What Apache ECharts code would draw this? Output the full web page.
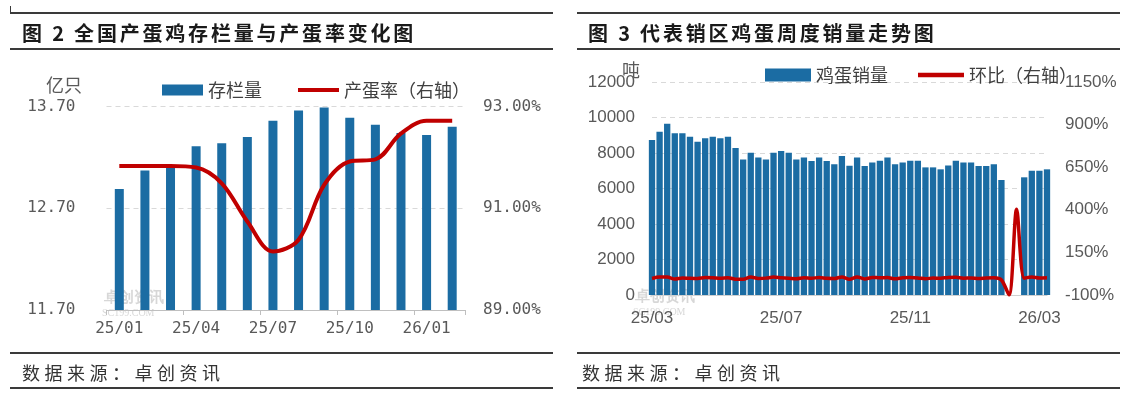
<!DOCTYPE html>
<html>
<head>
<meta charset="utf-8">
<script src="https://cdn.jsdelivr.net/npm/echarts@6/dist/echarts.min.js"></script>
<style>
    body { margin: 0; background: #fff; }
    #wrap { position: relative; width: 1135px; height: 397px; overflow: hidden; font-family: "Noto Sans CJK SC", sans-serif; }
    #main { position: absolute; left: 0; top: 0; width: 1135px; height: 397px; }
    .rule { position: absolute; height: 2px; background: #3a3a3a; }
    .title { position: absolute; font-size: 20px; font-weight: bold; letter-spacing: 2.8px; color: #1a1a1a; line-height: 24px; }
    .src { position: absolute; font-size: 18px; letter-spacing: 4.5px; color: #333; line-height: 22px; }
</style>
</head>
<body>
<div id="wrap">
    <div id="main"></div>
    <!-- 左图框线 -->
    <div class="rule" style="left:10px;top:12px;width:543px;"></div>
    <div class="rule" style="left:10px;top:6px;width:1px;height:7px;"></div>
    <div class="rule" style="left:10px;top:48px;width:543px;"></div>
    <div class="rule" style="left:10px;top:352px;width:543px;"></div>
    <div class="rule" style="left:10px;top:387px;width:543px;"></div>
    <div class="title" style="left:22px;top:21px;">图 2 全国产蛋鸡存栏量与产蛋率变化图</div>
    <div class="src" style="left:22px;top:361px;">数据来源：卓创资讯</div>
    <!-- 右图框线 -->
    <div class="rule" style="left:577px;top:12px;width:543px;"></div>
    <div class="rule" style="left:577px;top:48px;width:543px;"></div>
    <div class="rule" style="left:577px;top:352px;width:543px;"></div>
    <div class="rule" style="left:577px;top:387px;width:543px;"></div>
    <div class="title" style="left:588px;top:21px;">图 3 代表销区鸡蛋周度销量走势图</div>
    <div class="src" style="left:582px;top:361px;">数据来源：卓创资讯</div>
</div>
<script>
// 图2 产蛋鸡存栏量（亿只）与产蛋率（%）
var months = ['25/01','25/02','25/03','25/04','25/05','25/06','25/07','25/08','25/09','25/10','25/11','25/12','26/01','26/02'];
var stock = [12.89, 13.07, 13.10, 13.31, 13.34, 13.40, 13.56, 13.66, 13.69, 13.59, 13.52, 13.44, 13.42, 13.50];
var layRate = [91.83, 91.83, 91.83, 91.80, 91.49, 90.74, 90.15, 90.38, 91.46, 91.92, 91.96, 92.47, 92.72, 92.72];

// 图3 代表销区鸡蛋周度销量（吨）与环比（%）
var weeks = ['25/03/13','25/03/20','25/03/27','25/04/03','25/04/10','25/04/17','25/04/24','25/05/01','25/05/08','25/05/15',
    '25/05/22','25/05/29','25/06/05','25/06/12','25/06/19','25/06/26','25/07/03','25/07/10','25/07/17','25/07/24',
    '25/07/31','25/08/07','25/08/14','25/08/21','25/08/28','25/09/04','25/09/11','25/09/18','25/09/25','25/10/02',
    '25/10/09','25/10/16','25/10/23','25/10/30','25/11/06','25/11/13','25/11/20','25/11/27','25/12/04','25/12/11',
    '25/12/18','25/12/25','26/01/01','26/01/08','26/01/15','26/01/22','26/01/29','26/02/05','26/02/12','26/02/19',
    '26/02/26','26/03/05','26/03/12'];
var sales = [8730, 9200, 9650, 9110, 9110, 8920, 8640, 8830, 8920, 8830,
    8920, 8280, 7640, 8020, 7740, 7640, 8020, 8110, 8020, 7640,
    7740, 7550, 7740, 7550, 7360, 7830, 7280, 7740, 7270, 7470,
    7570, 7740, 7360, 7460, 7570, 7570, 7190, 7190, 7080, 7290,
    7570, 7470, 7470, 7270, 7270, 7360, 6480, 0, 0, 6630,
    7000, 7000, 7080];
var wow = [-3, 5, 5, -6, 0, -2, -3, 2, 1, -1,
    1, -7, -8, 5, -3, -1, 5, 1, -1, -5,
    1, -2, 3, -2, -3, 6, -7, 6, -6, 3,
    1, 2, -5, 1, 2, 0, -5, 0, -2, 3,
    4, -1, 0, -3, 0, 1, -12, -100, 403, -1,
    6, 0, 1];

var dom = document.getElementById('main');
var myChart = echarts.init(dom);
var blue = '#1B6CA3';
var red = '#C00000';
var grey = '#595959';
var monoFont = 'DejaVu Sans Mono';
var sansFont = 'Liberation Sans';
var lineIcon = 'path://M0,0L40,0L40,4L0,4Z';

var option = {
    animation: false,
    textStyle: { fontFamily: 'Noto Sans CJK SC' },
    legend: [
        {
            left: 157, top: 76,
            itemWidth: 41, itemHeight: 11, itemGap: 36,
            textStyle: { fontSize: 18, color: '#404040' },
            data: [{ name: '存栏量', icon: 'rect' }, { name: '产蛋率（右轴）', icon: lineIcon }]
        },
        {
            left: 760, top: 61,
            itemWidth: 46, itemHeight: 13, itemGap: 30,
            textStyle: { fontSize: 18, color: '#404040' },
            data: [{ name: '鸡蛋销量', icon: 'rect' }, { name: '环比（右轴）', icon: lineIcon }]
        }
    ],
    grid: [
        { left: 106.5, top: 106.5, width: 358.5, height: 203.5 },
        { left: 652, top: 82, width: 395, height: 213 }
    ],
    graphic: [
        { type: 'text', left: 46, top: 76, style: { text: '亿只', fontSize: 18, fill: grey, fontFamily: 'Noto Sans CJK SC' } },
        { type: 'text', left: 622, top: 61, style: { text: '吨', fontSize: 18, fill: grey, fontFamily: 'Noto Sans CJK SC' } },
        // 水印
        { type: 'text', left: 104, top: 290, style: { text: '卓创资讯', fontSize: 15, fontWeight: 'bold', fill: 'rgba(140,140,140,0.35)' } },
        { type: 'text', left: 102, top: 308, style: { text: 'SC199.COM', fontSize: 10, fontFamily: 'Liberation Serif', fill: 'rgba(140,140,140,0.35)' } },
        { type: 'text', left: 635, top: 289, style: { text: '卓创资讯', fontSize: 15, fontWeight: 'bold', fill: 'rgba(140,140,140,0.35)' } },
        { type: 'text', left: 633, top: 307, style: { text: 'SC199.COM', fontSize: 10, fontFamily: 'Liberation Serif', fill: 'rgba(140,140,140,0.35)' } }
    ],
    xAxis: [
        {
            gridIndex: 0,
            type: 'category',
            data: months,
            axisLine: { lineStyle: { color: '#BFBFBF' } },
            axisTick: { show: true, length: 5, lineStyle: { color: '#BFBFBF' } },
            axisLabel: { interval: 2, margin: 11, fontSize: 16, color: grey, fontFamily: monoFont }
        },
        {
            gridIndex: 1,
            type: 'category',
            boundaryGap: false,
            data: weeks,
            axisLine: { lineStyle: { color: '#D0D0D0' } },
            axisTick: { show: false },
            axisLabel: {
                interval: 16, margin: 15, fontSize: 17, color: grey, fontFamily: sansFont,
                formatter: function (v) { return v.slice(0, 5); }
            }
        }
    ],
    yAxis: [
        {
            gridIndex: 0,
            type: 'value',
            min: 11.7, max: 13.7, interval: 1,
            axisLine: { show: false },
            axisTick: { show: false },
            axisLabel: { margin: 31, fontSize: 16, color: grey, fontFamily: monoFont,
                formatter: function (v) { return v.toFixed(2); } },
            splitLine: { lineStyle: { color: '#D9D9D9', type: [5, 4] } }
        },
        {
            gridIndex: 0,
            type: 'value',
            position: 'right',
            min: 89, max: 93, interval: 2,
            axisLine: { show: false },
            axisTick: { show: false },
            axisLabel: { margin: 18, fontSize: 16, color: grey, fontFamily: monoFont,
                formatter: function (v) { return v.toFixed(2) + '%'; } },
            splitLine: { show: false }
        },
        {
            gridIndex: 1,
            type: 'value',
            min: 0, max: 12000, interval: 2000,
            axisLine: { show: false },
            axisTick: { show: false },
            axisLabel: { margin: 17, fontSize: 17, color: grey, fontFamily: sansFont,
                formatter: function (v) { return String(v); } },
            splitLine: { lineStyle: { color: '#D9D9D9', type: [5, 4] } }
        },
        {
            gridIndex: 1,
            type: 'value',
            position: 'right',
            min: -100, max: 1150, interval: 250,
            axisLine: { show: false },
            axisTick: { show: false },
            axisLabel: { margin: 18, fontSize: 17, color: grey, fontFamily: sansFont,
                formatter: function (v) { return v + '%'; } },
            splitLine: { show: false }
        }
    ],
    series: [
        {
            name: '存栏量',
            type: 'bar',
            xAxisIndex: 0, yAxisIndex: 0,
            barWidth: 9,
            itemStyle: { color: blue },
            data: stock
        },
        {
            name: '产蛋率（右轴）',
            type: 'line',
            xAxisIndex: 0, yAxisIndex: 1,
            smooth: 0.35,
            symbol: 'none',
            lineStyle: { color: red, width: 4 },
            itemStyle: { color: red },
            data: layRate
        },
        {
            name: '鸡蛋销量',
            type: 'bar',
            xAxisIndex: 1, yAxisIndex: 2,
            barCategoryGap: '17%',
            itemStyle: { color: blue },
            data: sales
        },
        {
            name: '环比（右轴）',
            type: 'line',
            xAxisIndex: 1, yAxisIndex: 3,
            smooth: 0.3,
            symbol: 'none',
            lineStyle: { color: red, width: 3.5 },
            itemStyle: { color: red },
            data: wow
        }
    ]
};
myChart.setOption(option, true);
</script>
</body>
</html>
